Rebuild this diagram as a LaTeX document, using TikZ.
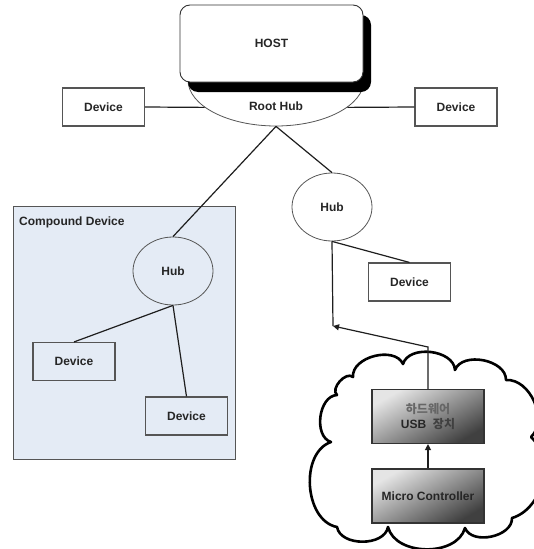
\documentclass[tikz,border=0pt]{standalone}
\usepackage{fontspec}
\setmainfont{Liberation Sans}
\newfontfamily\kr{Noto Sans CJK KR}
\usetikzlibrary{shapes.geometric,arrows.meta}
\definecolor{cmpfill}{HTML}{E4EBF5}
\definecolor{edgegray}{HTML}{555555}
\definecolor{wirec}{HTML}{1E1E1E}
\begin{document}
\begin{tikzpicture}[x=1pt,y=-1pt,
  lbl/.style={font=\fontsize{12}{15}\selectfont\bfseries, text=black!85},
  devbox/.style={draw=edgegray, line width=1.1pt, minimum width=82pt, minimum height=38pt, inner sep=0pt, lbl},
  hubell/.style={ellipse, draw=edgegray, line width=0.8pt, minimum width=80pt, minimum height=68pt, inner sep=0pt, lbl},
  wire/.style={draw=wirec, line width=1.2pt},
  tip/.style={-{Triangle[length=6pt,width=6pt]}},
  graybox/.style={draw=black!80, line width=1.1pt, minimum width=112pt, minimum height=54pt, inner sep=0pt,
    top color=black!10, bottom color=black!75, shading angle=30, lbl, align=center},
  cloudline/.style={draw=black, line width=2.6pt, fill=white, line join=round}
]
\useasboundingbox (0,0) rectangle (534,549);
% compound device
\node[draw=edgegray, fill=cmpfill, line width=1pt, minimum width=222pt, minimum height=253pt, inner sep=0pt] (cmp) at (124,332.5) {};
\node[lbl, anchor=west, inner sep=0pt] (cmplbl) at (19,222) {Compound Device};
% root hub + host
\node[ellipse, draw=edgegray, fill=white, line width=0.8pt, minimum width=176pt, minimum height=92pt, inner sep=0pt] (roothub) at (276,80) {};
\node[fill=black, rounded corners=10pt, minimum width=183pt, minimum height=77pt, inner sep=0pt] (hostshadow) at (279.5,53.5) {};
\node[draw=black!80, fill=white, rounded corners=10pt, line width=0.9pt, minimum width=183pt, minimum height=77pt, inner sep=0pt, lbl] (host) at (271.5,43.5) {HOST};
\node[lbl] (roothubtxt) at (276,106) {Root Hub};
% devices
\node[devbox] (ldev) at (103.5,107) {Device};
\node[devbox] (rdev) at (456,107) {Device};
\node[hubell] (rhub) at (332,207) {Hub};
\node[devbox] (rdev2) at (409.5,282) {Device};
\node[hubell] (chub) at (173,271) {Hub};
\node[devbox] (cdev1) at (74,361.5) {Device};
\node[devbox] (cdev2) at (186.5,416) {Device};
% cloud
\path[cloudline]
  (353,377) to[bend left=80] (403,364) to[bend left=80] (455,370) to[bend left=80] (506,380)
  to[bend left=70] (531,437) to[bend left=60] (512,518) to[bend left=80] (465,528)
  to[bend left=75] (388,527) to[bend left=80] (337,527) to[bend left=75] (331,442)
  to[bend left=80] (337,395) to[bend left=90] (353,377) -- cycle;
\node[graybox] (usb) at (428,416.5) {{\kr\color{black!60}하드웨어}\\USB\ \ {\kr\color{black!75}장치}};
\node[graybox] (mc) at (428,496) {Micro Controller};
\coordinate (j1) at (333,326);
\coordinate (j2) at (428,347);
% connectors
\draw[wire] (ldev.east) -- (roothub.201);
\draw[wire] (rdev.west) -- (roothub.-21);
\draw[wire] (roothub.south) -- (chub.north);
\draw[wire] (roothub.south) -- (rhub.north);
\draw[wire] (rhub.south) -- (rdev2.north);
\draw[wire] (rhub.south) -- (j1);
\draw[wire,tip] (usb.north) -- (j2) -- (j1);
\draw[wire,tip] (mc.north) -- (usb.south);
\draw[wire] (chub.south) -- (cdev1.north);
\draw[wire] (chub.south) -- (cdev2.north);
\end{tikzpicture}
\end{document}
